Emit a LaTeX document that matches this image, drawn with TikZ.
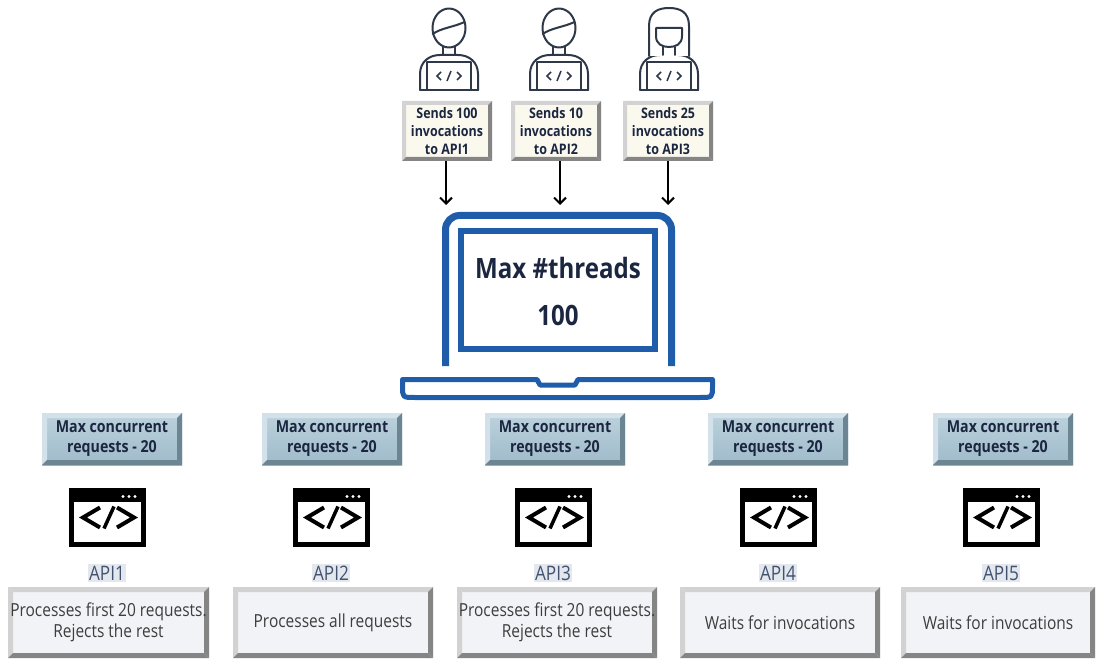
\documentclass[tikz,border=0pt]{standalone}
\usepackage{fontspec}
\setmainfont{Open Sans}[FakeStretch=0.86]
\usetikzlibrary{arrows.meta}

\definecolor{lapblue}{HTML}{1F5DAB}
\definecolor{navy}{HTML}{1B2740}
\definecolor{iconink}{HTML}{2E3848}
\definecolor{steeltop}{HTML}{BDD2DD}
\definecolor{steelbot}{HTML}{9FBACA}
\definecolor{steellight}{HTML}{D3E2EA}
\definecolor{steeldark}{HTML}{6C8593}
\definecolor{creamface}{HTML}{FBF8EE}
\definecolor{paleface}{HTML}{F1F3F6}
\definecolor{bevdark}{HTML}{858585}
\definecolor{bevlight}{HTML}{D2D2D2}
\definecolor{apitext}{HTML}{43536F}
\definecolor{apibg}{HTML}{E3E8EE}
\definecolor{bodytext}{HTML}{3D3D3D}

\tikzset{
  % raised box: face colour, top/left edge, bottom/right edge, edge width
  bevel/.style n args={4}{
    draw=none, inner sep=0pt, align=center,
    path picture={
      \path (path picture bounding box.north west) coordinate (bnw)
            (path picture bounding box.north east) coordinate (bne)
            (path picture bounding box.south west) coordinate (bsw)
            (path picture bounding box.south east) coordinate (bse);
      \fill[#2] (bnw) -- (bne) -- ([xshift=-#4,yshift=-#4]bne) -- ([xshift=#4,yshift=-#4]bnw) -- cycle;
      \fill[#2] (bnw) -- (bsw) -- ([xshift=#4,yshift=#4]bsw) -- ([xshift=#4,yshift=-#4]bnw) -- cycle;
      \fill[#3] (bsw) -- (bse) -- ([xshift=-#4,yshift=#4]bse) -- ([xshift=#4,yshift=#4]bsw) -- cycle;
      \fill[#3] (bne) -- (bse) -- ([xshift=-#4,yshift=#4]bse) -- ([xshift=-#4,yshift=-#4]bne) -- cycle;
    }},
  sendbox/.style={bevel={creamface}{bevlight}{bevdark}{4pt}, fill=creamface,
    minimum width=90pt, minimum height=60pt, text=navy,
    font=\bfseries\fontsize{14.5}{18}\selectfont},
  limitbox/.style={bevel={steeltop}{steellight}{steeldark}{5pt},
    top color=steeltop, bottom color=steelbot,
    minimum width=140pt, minimum height=52pt, text=navy,
    font=\bfseries\fontsize{16.5}{20}\selectfont},
  statebox/.style={bevel={paleface}{bevlight}{bevdark}{5pt}, fill=paleface,
    minimum height=71pt},
  statetext/.style={text=bodytext, align=center, font=\fontsize{18}{21}\selectfont},
  apilabel/.style={fill=apibg, text=apitext, inner sep=1.5pt,
    font=\fontsize{20}{22}\selectfont},
  person/.style={draw=iconink, line width=2pt, line join=round, line cap=round},
  lap/.style={draw=lapblue, line cap=butt, line join=round},
  flow/.style={draw=black, line width=2pt, -{Straight Barb[length=6pt,width=12pt,line width=2pt]}},
  codemark/.style={line width=4pt, line join=miter},
}

\begin{document}
\begin{tikzpicture}[x=1pt,y=-1pt]
\useasboundingbox[fill=white] (0,0) rectangle (1097,660);

% ---- developers at their laptops ----
\foreach \cx in {449,559,669}{
  \begin{scope}[shift={(\cx,0)}]
    % shoulders and neck
    \draw[person] (-29,90) -- (-29,74) .. controls (-29,62) and (-20,55) .. (-9,55)
                  -- (9,55) .. controls (20,55) and (29,62) .. (29,74) -- (29,90);
    \draw[person] (-6,46) -- (-6,55) (6,46) -- (6,55);
    % laptop
    \draw[person, fill=white] (-22,62) rectangle (22,90);
    \draw[person] (-29,90) -- (29,90);
    \draw[draw=iconink, line width=1.5pt] (-8,72) -- (-12,76) -- (-8,80)
          (-2,81) -- (2,71) (8,72) -- (12,76) -- (8,80);
  \end{scope}
}
% short-haired heads
\foreach \cx in {449,559}{
  \begin{scope}[shift={(\cx,0)}]
    \draw[person, fill=white] (0,28) ellipse [x radius=16.5pt, y radius=19.5pt];
    \draw[person] (-16.3,34) .. controls (-8,28) and (5,27) .. (15.5,22);
  \end{scope}
}
% long-haired head
\begin{scope}[shift={(669,0)}]
  \draw[person, fill=white] (-20,56) -- (-20,26) .. controls (-20,12) and (-11,8) .. (0,8)
        .. controls (11,8) and (20,12) .. (20,26) -- (20,56);
  \draw[person, fill=white] (-13,28) -- (-13,36) .. controls (-13,44) and (-7,47) .. (0,47)
        .. controls (7,47) and (13,44) .. (13,36) -- (13,28) -- cycle;
  \draw[person] (-6,47) -- (-6,55) (6,47) -- (6,55);
\end{scope}

% ---- request labels ----
\node[sendbox] (send1) at (447,131) {Sends 100\\invocations\\to API1};
\node[sendbox] (send2) at (556,131) {Sends 10\\invocations\\to API2};
\node[sendbox] (send3) at (668,131) {Sends 25\\invocations\\to API3};

\coordinate (in1) at (446,205);
\coordinate (in2) at (560,205);
\coordinate (in3) at (668,205);
\draw[flow] (send1.south -| in1) -- (in1);
\draw[flow] (send2.south -| in2) -- (in2);
\draw[flow] (send3.south -| in3) -- (in3);

% ---- server laptop ----
\draw[lap, line width=7pt, rounded corners=14pt] (445.5,366) -- (445.5,215.5) -- (671.5,215.5) -- (671.5,366);
\node[draw=lapblue, line width=6pt, minimum width=194pt, minimum height=118pt, inner sep=0pt] (screen) at (558,290) {};
\node[text=navy, font=\bfseries\fontsize{28}{32}\selectfont] (maxlbl) at (558,268) {Max \#threads};
\node[text=navy, font=\bfseries\fontsize{28}{32}\selectfont] (maxval) at (558,315) {100};
\draw[lap, line width=5pt] (402.5,379.5) -- (537,379.5) -- (540,385) -- (575,385) -- (578,379.5)
   -- (712.5,379.5) -- (712.5,386) .. controls (712.5,397.5) .. (700,397.5)
   -- (415,397.5) .. controls (402.5,397.5) .. (402.5,386) -- cycle;

% ---- APIs ----
\foreach \i/\bx/\ix/\sx/\sw in {1/112/107/108.5/201, 2/332/331/333/200, 3/555/553/557/200,
                                4/778/778/780/200, 5/1003/1001/998/194}{
  \node[limitbox] (limit\i) at (\bx,439) {Max concurrent\\requests - 20};
  % code window icon
  \node[draw=black, line width=5pt, minimum width=72pt, minimum height=54pt, inner sep=0pt,
        path picture={
          \fill[black] (path picture bounding box.north west) rectangle ([yshift=-11pt]path picture bounding box.north east);
          \foreach \d in {8,14,20}
            \fill[white] ([xshift=-\d pt,yshift=-6pt]path picture bounding box.north east) circle (1.6pt);
        }] (code\i) at (\ix,517.5) {};
  \draw[codemark] ([xshift=-7pt,yshift=10pt]code\i.center) -- ([xshift=-24pt,yshift=0pt]code\i.center) -- ([xshift=-7pt,yshift=-10pt]code\i.center);
  \draw[codemark] ([xshift=10pt,yshift=10pt]code\i.center) -- ([xshift=27pt,yshift=0pt]code\i.center) -- ([xshift=10pt,yshift=-10pt]code\i.center);
  \draw[line width=3.5pt] ([xshift=-3pt,yshift=-11pt]code\i.center) -- ([xshift=7pt,yshift=11pt]code\i.center);
  \node[apilabel] (api\i) at (\ix,573) {API\i};
  \node[statebox, minimum width=\sw pt] (state\i) at (\sx,622.5) {};
}
\node[statetext] (text1) at (state1) {Processes first 20 requests.\\Rejects the rest};
\node[statetext] (text2) at (state2) {Processes all requests};
\node[statetext] (text3) at (state3) {Processes first 20 requests.\\Rejects the rest};
\node[statetext] (text4) at (state4) {Waits for invocations};
\node[statetext] (text5) at (state5) {Waits for invocations};
\end{tikzpicture}
\end{document}
